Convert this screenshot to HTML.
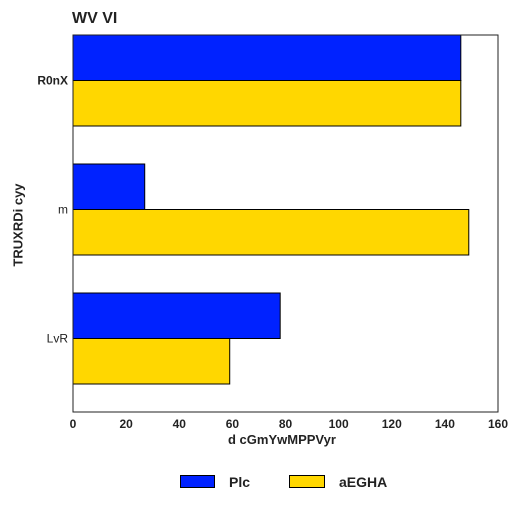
<!DOCTYPE html>
<html><head><meta charset="utf-8"><style>
body{margin:0;background:#fff;font-family:"Liberation Sans",sans-serif;}
svg text{font-family:"Liberation Sans",sans-serif;fill:#222;}
</style></head><body>
<svg id="c" width="525" height="525"></svg>
<script>
const categories=["R0nX","m","LvR"];
const seriesNames=["Plc","aEGHA"];
const plcValues=[146,27,78];
const aeghaValues=[146,149,59];
const xTicks=[0,20,40,60,80,100,120,140,160];
const colors=["#0022ff","#ffd700"];
const NS="http://www.w3.org/2000/svg";
const svg=document.getElementById("c");
const L=73,R=498,T=35,B=412;
const xs=v=>L+(v-0)/(160-0)*(R-L);
const bh=45.5, step=129;
function mk(t,a,txt){const e=document.createElementNS(NS,t);for(const k in a)e.setAttribute(k,a[k]);if(txt!==undefined)e.textContent=txt;svg.appendChild(e);return e;}
const series=[plcValues,aeghaValues];
categories.forEach((c,i)=>{
  const cy=T+bh+step*i;
  series.forEach((vals,s)=>{
    const r=mk("rect",{x:xs(0),y:cy-bh+s*bh,width:xs(vals[i])-xs(0),height:bh,fill:colors[s],stroke:"#000","stroke-width":1});
    
    
  });
  const t=mk("text",{x:68,y:cy+4,"text-anchor":"end","font-size":12,"font-weight":i==0?"bold":"normal"},c);
  
  
});
const frame=mk("rect",{x:L,y:T,width:R-L,height:B-T,fill:"none",stroke:"#222","stroke-width":1});


xTicks.forEach(v=>{
  const t=mk("text",{x:xs(v),y:428,"text-anchor":"middle","font-size":12,"font-weight":"bold"},String(v));
  
  
});
</script>
<div style="position:absolute;left:72px;top:10px;font-size:16px;font-weight:bold;color:#222">WV VI</div>
<div style="position:absolute;left:228px;top:432px;font-size:13px;font-weight:bold;color:#222">d cGmYwMPPVyr</div>
<div style="position:absolute;left:18px;top:225px;transform:translate(-50%,-50%) rotate(-90deg);font-size:13px;font-weight:bold;color:#222;white-space:nowrap">TRUXRDi cyy</div>
<div style="position:absolute;left:180px;top:475px;width:35px;height:13px;box-sizing:border-box;background:#0022ff;border:1px solid #000"></div>
<div style="position:absolute;left:229px;top:474px;font-size:14px;font-weight:bold;color:#222">Plc</div>
<div style="position:absolute;left:289px;top:475px;width:36px;height:13px;box-sizing:border-box;background:#ffd700;border:1px solid #000"></div>
<div style="position:absolute;left:339px;top:474px;font-size:14px;font-weight:bold;color:#222">aEGHA</div>
</body></html>
